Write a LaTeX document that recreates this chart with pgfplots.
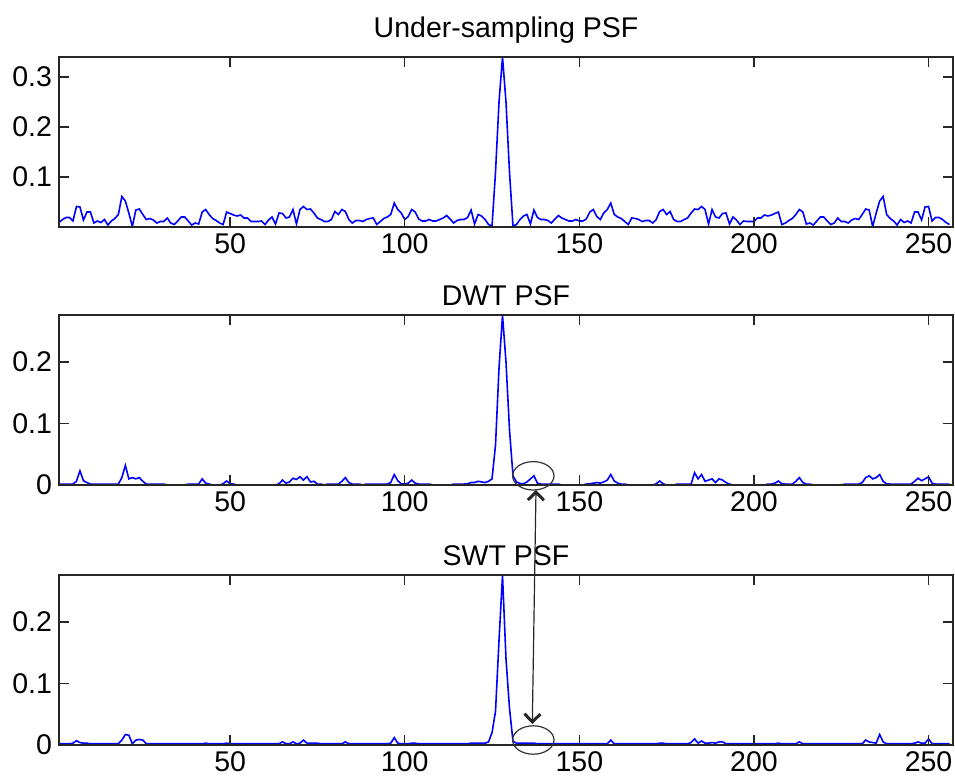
\documentclass[border=0pt]{standalone}
\usepackage{fontspec}
\setmainfont{Liberation Sans}
\usepackage{pgfplots}
\usepackage{pgfplotstable}
\pgfplotsset{compat=1.18}
\usetikzlibrary{arrows.meta}

% columns: sample index, under-sampling PSF, DWT PSF, SWT PSF
\pgfplotstableread{
x us dwt swt
1 0.009 0.0015 0.002
2 0.015 0.0015 0.002
3 0.019 0.0015 0.002
4 0.019 0.0015 0.002
5 0.012 0.0015 0.003
6 0.041 0.006 0.007
7 0.040 0.023 0.004
8 0.014 0.007 0.003
9 0.030 0.004 0.003
10 0.030 0.0015 0.002
11 0.008 0.0015 0.002
12 0.012 0.0015 0.002
13 0.009 0.0015 0.002
14 0.015 0.0015 0.002
15 0.004 0.0015 0.002
16 0.012 0.0015 0.002
17 0.017 0.0015 0.002
18 0.025 0.0015 0.002
19 0.061 0.012 0.008
20 0.052 0.032 0.017
21 0.028 0.010 0.016
22 0.001 0.012 0.002
23 0.034 0.010 0.008
24 0.036 0.012 0.009
25 0.025 0.006 0.008
26 0.015 0.0015 0.002
27 0.017 0.0015 0.002
28 0.014 0.0015 0.002
29 0.008 0.0015 0.002
30 0.011 0.0015 0.002
31 0.011 0.0015 0.002
32 0.018 0 0.002
33 0.008 0 0.002
34 0.005 0 0.002
35 0.012 0 0.002
36 0.020 0 0.002
37 0.020 0 0.002
38 0.012 0.0015 0.002
39 0.004 0.0015 0.002
40 0.008 0.0015 0.002
41 0.006 0.0015 0.002
42 0.030 0.010 0.002
43 0.035 0.003 0.003
44 0.025 0.0015 0.002
45 0.017 0 0.002
46 0.013 0 0.002
47 0.008 0 0.002
48 0.005 0.002 0.002
49 0.030 0.0065 0.003
50 0.027 0.002 0.002
51 0.024 0.0015 0.002
52 0.022 0 0.002
53 0.024 0 0.002
54 0.018 0 0.002
55 0.018 0 0.002
56 0.011 0 0.002
57 0.011 0 0.002
58 0.011 0 0.002
59 0.012 0 0.002
60 0.005 0 0.002
61 0.014 0 0.002
62 0.020 0 0.002
63 0.006 0 0.002
64 0.028 0.002 0.002
65 0.027 0.008 0.005
66 0.018 0.003 0.002
67 0.020 0.005 0.002
68 0.035 0.011 0.005
69 0.006 0.009 0.002
70 0.035 0.0135 0.003
71 0.041 0.008 0.008
72 0.035 0.0135 0.003
73 0.036 0.005 0.003
74 0.028 0.006 0.003
75 0.018 0.0015 0.003
76 0.015 0.0015 0.002
77 0.011 0 0.002
78 0.011 0.0015 0.002
79 0.015 0.0015 0.002
80 0.031 0.0015 0.002
81 0.025 0.0015 0.002
82 0.035 0.006 0.002
83 0.031 0.012 0.005
84 0.015 0.004 0.002
85 0.008 0.0015 0.002
86 0.013 0.0015 0.002
87 0.013 0.0015 0.002
88 0.011 0 0.002
89 0.015 0.0015 0.002
90 0.017 0.0015 0.002
91 0.018 0.0015 0.002
92 0.005 0.0015 0.002
93 0.011 0.0015 0.002
94 0.017 0.0015 0.002
95 0.020 0.0015 0.002
96 0.025 0.004 0.003
97 0.048 0.017 0.012
98 0.035 0.007 0.003
99 0.028 0.002 0.002
100 0.015 0.0015 0.002
101 0.021 0.003 0.002
102 0.035 0.008 0.003
103 0.030 0.003 0.003
104 0.016 0.0015 0.002
105 0.012 0.0015 0.002
106 0.012 0.0015 0.002
107 0.015 0.0015 0.002
108 0.012 0 0.002
109 0.012 0 0.002
110 0.015 0 0.002
111 0.018 0 0.002
112 0.023 0 0.002
113 0.016 0 0.002
114 0.008 0.0015 0.002
115 0.013 0.0015 0.002
116 0.015 0.0015 0.002
117 0.015 0.0015 0.002
118 0.019 0.002 0.002
119 0.034 0.004 0.003
120 0.006 0.004 0.003
121 0.025 0.006 0.003
122 0.022 0.005 0.003
123 0.015 0.004 0.003
124 0.005 0.006 0.005
125 0.002 0.010 0.020
126 0.110 0.065 0.055
127 0.250 0.190 0.170
128 0.340 0.276 0.276
129 0.250 0.200 0.140
130 0.110 0.090 0.060
131 0.002 0.015 0.006
132 0.005 0.005 0.003
133 0.015 0.0025 0.003
134 0.022 0.002 0.003
135 0.025 0.005 0.003
136 0.006 0.010 0.003
137 0.034 0.015 0.003
138 0.019 0.003 0.002
139 0.015 0.0015 0.002
140 0.015 0.0015 0.002
141 0.013 0.0015 0.002
142 0.008 0.0015 0.002
143 0.016 0.0015 0.002
144 0.023 0.0015 0.002
145 0.018 0 0.002
146 0.015 0 0.002
147 0.012 0 0.002
148 0.012 0 0.002
149 0.015 0 0.002
150 0.012 0 0.002
151 0.012 0 0.002
152 0.016 0.0015 0.002
153 0.030 0.002 0.002
154 0.035 0.003 0.002
155 0.021 0.004 0.002
156 0.015 0.003 0.002
157 0.028 0.005 0.002
158 0.035 0.008 0.002
159 0.048 0.017 0.008
160 0.025 0.0065 0.002
161 0.020 0.003 0.002
162 0.017 0.0015 0.002
163 0.011 0.0015 0.002
164 0.005 0 0.002
165 0.018 0 0.002
166 0.017 0 0.002
167 0.015 0 0.002
168 0.011 0 0.002
169 0.013 0 0.002
170 0.013 0 0.002
171 0.008 0 0.002
172 0.015 0.002 0.002
173 0.031 0.0065 0.003
174 0.035 0.002 0.003
175 0.025 0 0.002
176 0.031 0 0.002
177 0.015 0 0.002
178 0.011 0.0015 0.002
179 0.011 0.0015 0.002
180 0.015 0.0015 0.002
181 0.018 0.0015 0.002
182 0.028 0.0015 0.004
183 0.036 0.020 0.010
184 0.035 0.010 0.003
185 0.041 0.017 0.0065
186 0.035 0.006 0.003
187 0.006 0.008 0.003
188 0.035 0.010 0.004
189 0.020 0.004 0.003
190 0.018 0.010 0.005
191 0.027 0.008 0.005
192 0.028 0.004 0.002
193 0.006 0.0015 0.002
194 0.020 0 0.002
195 0.014 0 0.002
196 0.005 0 0.002
197 0.012 0 0.002
198 0.011 0 0.002
199 0.011 0 0.002
200 0.011 0 0.002
201 0.018 0 0.002
202 0.018 0 0.002
203 0.024 0 0.002
204 0.022 0.0015 0.002
205 0.024 0.0015 0.002
206 0.027 0.003 0.002
207 0.030 0.0065 0.003
208 0.005 0.002 0.002
209 0.008 0.0015 0.002
210 0.013 0.0015 0.002
211 0.017 0.0015 0.002
212 0.025 0.006 0.002
213 0.035 0.012 0.005
214 0.030 0.004 0.002
215 0.006 0.0015 0.002
216 0.008 0.0015 0.002
217 0.004 0 0.002
218 0.012 0 0.002
219 0.020 0 0.002
220 0.020 0 0.002
221 0.012 0 0.002
222 0.005 0 0.002
223 0.008 0 0.002
224 0.018 0 0.002
225 0.011 0 0.002
226 0.011 0.0015 0.002
227 0.008 0.0015 0.002
228 0.014 0.0015 0.002
229 0.017 0.0015 0.002
230 0.015 0.0015 0.002
231 0.025 0.004 0.002
232 0.036 0.012 0.008
233 0.034 0.015 0.005
234 0.001 0.010 0.004
235 0.028 0.012 0.003
236 0.052 0.017 0.017
237 0.061 0.006 0.005
238 0.025 0.002 0.002
239 0.017 0.0015 0.002
240 0.012 0.0015 0.002
241 0.004 0.0015 0.002
242 0.015 0.0015 0.002
243 0.009 0.0015 0.002
244 0.012 0.0015 0.002
245 0.008 0.0015 0.002
246 0.030 0.006 0.003
247 0.030 0.011 0.005
248 0.014 0.007 0.003
249 0.040 0.010 0.003
250 0.041 0.0135 0.010
251 0.012 0.003 0.002
252 0.019 0.0015 0.002
253 0.019 0.0015 0.002
254 0.015 0.0015 0.002
255 0.009 0.0015 0.002
256 0.005 0.0015 0.002
}\psfdata

\newcommand{\labelfont}{\fontsize{14.25}{16}\selectfont}

\pgfplotsset{
  psfpanel/.style={
    scale only axis,
    width=447pt, height=85pt,
    xmin=1, xmax=257,
    xtick={50,100,150,200,250},
    scaled ticks=false,
    tick align=inside,
    major tick length=5pt,
    axis on top,
    axis line style={black!85, line width=0.65pt},
    every tick/.style={black!85, line width=0.65pt},
    tick label style={font=\labelfont},
    /pgf/number format/assume math mode=true,
    every axis title shift=0pt,
    title style={font=\labelfont, at={(0.5,1)}, anchor=base},
  },
  psfline/.style={color={rgb,255:red,0;green,0;blue,255}, line width=0.8pt, mark=none},
}

\begin{document}
\begin{tikzpicture}
\useasboundingbox (0,0) rectangle (477.5pt,-389pt);

\begin{axis}[psfpanel, at={(29.5pt,-28.5pt)}, anchor=north west,
  ymin=0, ymax=0.34, ytick={0.1,0.2,0.3},
  title={Under-sampling PSF}, title style={yshift=10pt}]
  \addplot[psfline] table[x=x, y=us] {\psfdata};
\end{axis}

\begin{axis}[psfpanel, at={(29.5pt,-157.5pt)}, anchor=north west,
  ymin=0, ymax=0.2764, ytick={0,0.1,0.2},
  title={DWT PSF}, title style={yshift=5pt}]
  \addplot[psfline] table[x=x, y=dwt] {\psfdata};
\end{axis}

\begin{axis}[psfpanel, at={(29.5pt,-287.5pt)}, anchor=north west,
  ymin=0, ymax=0.2764, ytick={0,0.1,0.2},
  title={SWT PSF}, title style={yshift=5pt}]
  \addplot[psfline] table[x=x, y=swt] {\psfdata};
\end{axis}

% side lobe near sample 136 compared between the two wavelet PSFs
\draw[black!80, line width=0.6pt] (266.65pt,-237.9pt) ellipse [x radius=10.35pt, y radius=7.1pt];
\draw[black!80, line width=0.6pt] (266.65pt,-370pt) ellipse [x radius=10.35pt, y radius=7.1pt];
\draw[black!85, line width=0.6pt,
  {Straight Barb[length=4pt,width=8pt,line width=1.5pt]}-{Straight Barb[length=4pt,width=8pt,line width=1.5pt]}]
  (268pt,-245pt) -- (266.15pt,-362pt);
\end{tikzpicture}
\end{document}
